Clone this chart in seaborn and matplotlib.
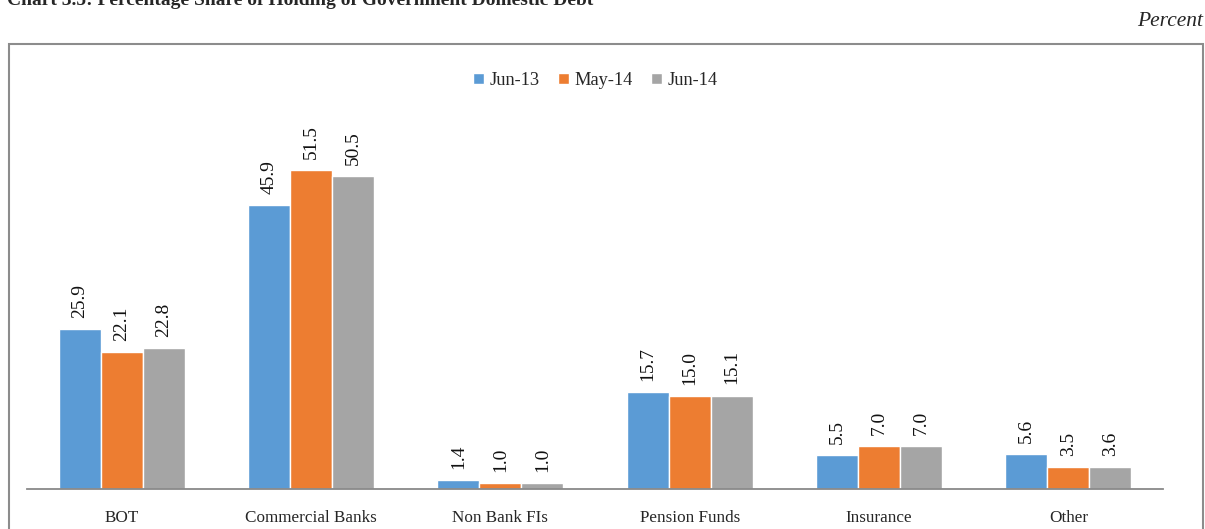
import matplotlib.pyplot as plt
import matplotlib.patches as mpatches
import numpy as np
import pandas as pd
import seaborn as sns

categories = ["BOT", "Commercial Banks", "Non Bank FIs", "Pension Funds", "Insurance", "Other"]
periods = ["Jun-13", "May-14", "Jun-14"]
jun13 = [25.9, 45.9, 1.4, 15.7, 5.5, 5.6]
may14 = [22.1, 51.5, 1.0, 15.0, 7.0, 3.5]
jun14 = [22.8, 50.5, 1.0, 15.1, 7.0, 3.6]
colors = ["#5B9BD5", "#ED7D31", "#A5A5A5"]

df = pd.DataFrame({
    "Holder": categories * 3,
    "Period": [p for p in periods for _ in categories],
    "Share": jun13 + may14 + jun14,
})

sns.set_style("white")
plt.rcParams["font.family"] = ["Liberation Serif", "DejaVu Serif"]

W, H = 1205, 529
fig = plt.figure(figsize=(W / 100, H / 100), dpi=100)
ax = fig.add_axes([27 / W, 1 - 489 / H, (1163 - 27) / W, (489 - 95) / H])

sns.barplot(data=df, x="Holder", y="Share", hue="Period", palette=colors,
            width=0.667, gap=0, saturation=1, ax=ax, legend=True)

ax.set_ylim(0, (489 - 95) / 6.19)
ax.set_xlim(-0.5, len(categories) - 0.5)
ax.set_xlabel("")
ax.set_ylabel("")
ax.set_yticks([])
for s in ["top", "right", "left"]:
    ax.spines[s].set_visible(False)
ax.spines["bottom"].set_color("#898989")
ax.spines["bottom"].set_linewidth(1.3)
ax.set_xticks(np.arange(-0.5, len(categories)), minor=True)
ax.tick_params(axis="x", which="minor", length=5, color="#898989", width=1.3, direction="out")
ax.tick_params(axis="x", which="major", length=0, labelsize=12.3, pad=15)

for cont in ax.containers:
    ax.bar_label(cont, fmt="%.1f", rotation=90, padding=8, fontsize=14, color="#111111")

ax.legend(loc="upper center", bbox_to_anchor=(0.5, 1.10), ncol=3, frameon=False,
          fontsize=13.2, handlelength=0.6, handleheight=0.6, handletextpad=0.3,
          columnspacing=1.0)

# outer chart frame
fig.patches.append(mpatches.Rectangle((9 / W, -0.01), (1203 - 9) / W, 1 - 44 / H + 0.01,
                                      transform=fig.transFigure, fill=False,
                                      edgecolor="#8c8c8c", linewidth=1.5))

fig.text(7 / W, 1 - 5 / H, "Chart 3.5: Percentage Share of Holding of Government Domestic Debt",
         ha="left", va="baseline", fontsize=14, fontweight="bold")
fig.text(1203 / W, 1 - 22 / H, "Percent", ha="right", va="center", fontsize=15.5, style="italic")

plt.savefig("out.png", dpi=100)
